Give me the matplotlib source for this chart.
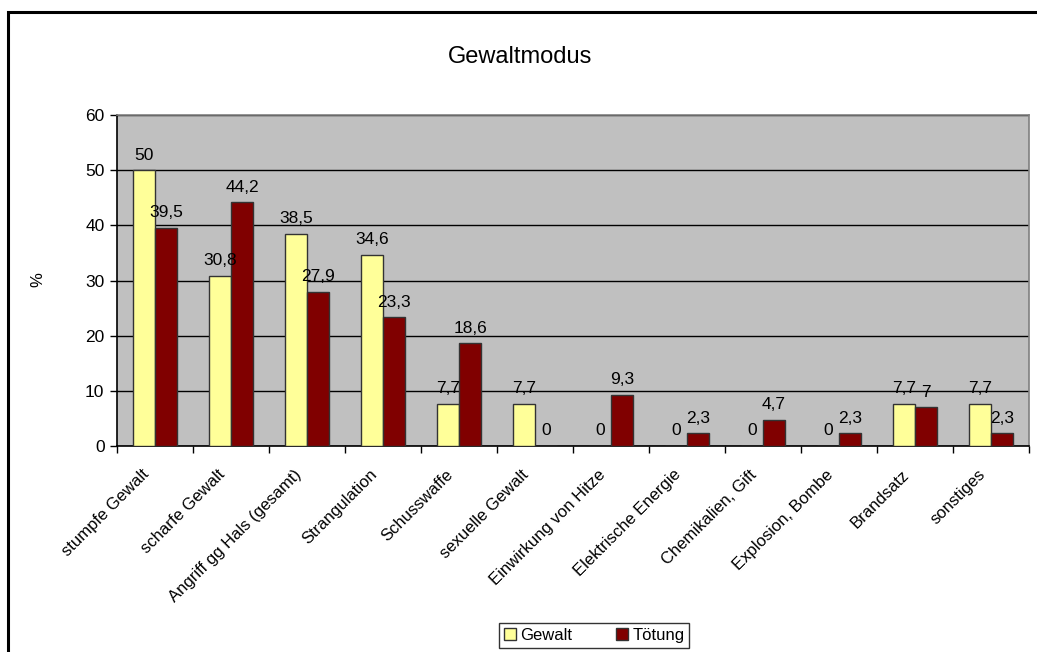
import matplotlib.pyplot as plt
import numpy as np
from matplotlib.patches import Rectangle

categories = ["stumpfe Gewalt", "scharfe Gewalt", "Angriff gg Hals (gesamt)",
              "Strangulation", "Schusswaffe", "sexuelle Gewalt",
              "Einwirkung von Hitze", "Elektrische Energie", "Chemikalien, Gift",
              "Explosion, Bombe", "Brandsatz", "sonstiges"]
gewalt = [50, 30.8, 38.5, 34.6, 7.7, 7.7, 0, 0, 0, 0, 7.7, 7.7]
toetung = [39.5, 44.2, 27.9, 23.3, 18.6, 0, 9.3, 2.3, 4.7, 2.3, 7, 2.3]
series_names = ["Gewalt", "Tötung"]
colors = ["#FFFF99", "#800000"]

plt.rcParams['font.family'] = ['Liberation Sans', 'DejaVu Sans']

W, H = 1037, 652
fig = plt.figure(figsize=(W / 100, H / 100), dpi=100)

# outer chart frame
fig.patches.append(Rectangle((8 / W, -0.1), 1.2, (H - 12) / H + 0.1,
                             transform=fig.transFigure, fill=False,
                             edgecolor="black", linewidth=2.2, zorder=0))

left, right, top, bottom = 117, 1029, 115, 446
ax = fig.add_axes([left / W, 1 - bottom / H, (right - left) / W, (bottom - top) / H])
ax.set_facecolor("#C0C0C0")

x = np.arange(len(categories))
bw = 0.29
bars_g = ax.bar(x - bw / 2, gewalt, bw, color=colors[0], edgecolor="#333333",
                linewidth=1.0, zorder=3, label=series_names[0])
bars_t = ax.bar(x + bw / 2, toetung, bw, color=colors[1], edgecolor="#333333",
                linewidth=1.0, zorder=3, label=series_names[1])

def fmt(v):
    s = f"{v:g}"
    return s.replace(".", ",")

for bars, vals in ((bars_g, gewalt), (bars_t, toetung)):
    for b, v in zip(bars, vals):
        ax.annotate(fmt(v), (b.get_x() + b.get_width() / 2, v),
                    xytext=(0, 5.5), textcoords="offset points",
                    ha="center", va="bottom", fontsize=12.5, zorder=5)

ax.set_xlim(-0.5, len(categories) - 0.5)
ax.set_ylim(0, 60)
ax.set_yticks(range(0, 61, 10))
ax.tick_params(axis="y", labelsize=12.5, length=5, direction="out", width=1, pad=4)
ax.yaxis.grid(True, color="black", linewidth=1.0, zorder=1)
ax.set_axisbelow(True)

# rotated category names sit slightly left of the group centre
ax.set_xticks(x - 0.18)
ax.set_xticklabels(categories, rotation=45, ha="right", rotation_mode="anchor",
                   fontsize=12)
ax.set_xticks(np.arange(-0.5, len(categories)), minor=True)
ax.tick_params(axis="x", which="major", length=0, pad=15)
ax.tick_params(axis="x", which="minor", length=5, width=1, direction="out")

for side in ("top", "right"):
    ax.spines[side].set_color("#808080")
    ax.spines[side].set_linewidth(1.2)
for side in ("left", "bottom"):
    ax.spines[side].set_color("black")
    ax.spines[side].set_linewidth(1.2)

fig.text(38 / W, 1 - 280 / H, "%", rotation=90, ha="center", va="center",
         fontsize=12)

fig.text(520 / W, 1 - 57 / H, "Gewaltmodus", ha="center", va="center", fontsize=17)

leg = fig.legend(handles=[bars_g, bars_t], labels=series_names, loc="center",
                 bbox_to_anchor=(594 / W, 1 - 635.5 / H), ncol=2, fontsize=12,
                 frameon=True, fancybox=False, edgecolor="black",
                 handlelength=0.75, handleheight=0.75, handletextpad=0.25,
                 columnspacing=2.6, borderpad=0.3, borderaxespad=0)
leg.get_frame().set_linewidth(1.0)

fig.savefig("out.png", dpi=100)
